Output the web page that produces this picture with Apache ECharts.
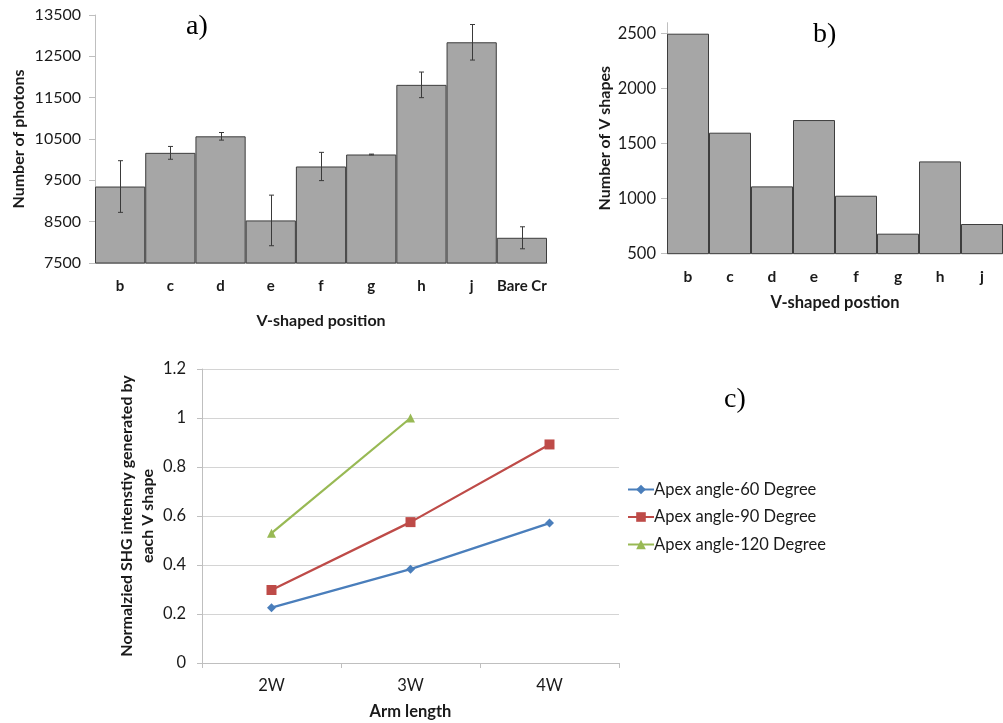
<!DOCTYPE html>
<html>
<head>
<meta charset="utf-8">
<script src="https://cdn.jsdelivr.net/npm/echarts@6/dist/echarts.min.js"></script>
<style>
html,body{margin:0;padding:0;background:#fff;}
#main{width:1003px;height:723px;}
</style>
</head>
<body>
<div id="main"></div>
<script>
// Panel a data
const catsA = ['b','c','d','e','f','g','h','j','Bare Cr'];
const photons = [9350, 10165, 10565, 8530, 9835, 10125, 11810, 12840, 8110];
const photonErr = [625, 155, 92, 612, 342, 10, 310, 430, 266];
const ticksA = [7500, 8500, 9500, 10500, 11500, 12500, 13500];

// Panel b data
const catsB = ['b','c','d','e','f','g','h','j'];
const vCounts = [2500, 1600, 1112, 1715, 1027, 682, 1339, 770];
const ticksB = [500, 1000, 1500, 2000, 2500];

// Panel c data
const catsC = ['2W','3W','4W'];
const apex60 = [0.226, 0.383, 0.571];
const apex90 = [0.298, 0.575, 0.892];
const apex120 = [0.530, 1.0, null];
const seriesNamesC = ['Apex angle-60 Degree','Apex angle-90 Degree','Apex angle-120 Degree'];

const F = 'Lato, "Open Sans", sans-serif';
const axisGray = '#bfbfbf';
const textCol = '#1a1a1a';

const chart = echarts.init(document.getElementById('main'), null, {renderer:'canvas'});

const errData = photons.map((v,i)=>[i, v - photonErr[i], v + photonErr[i]]);

const option = {
  animation: false,
  backgroundColor: '#fff',
  title: [
    {text:'a)', left:181, top:8, textStyle:{fontFamily:'"Liberation Serif", serif', fontWeight:'normal', fontSize:28, color:'#000'}},
    {text:'b)', left:808, top:16, textStyle:{fontFamily:'"Liberation Serif", serif', fontWeight:'normal', fontSize:28, color:'#000'}},
    {text:'c)', left:719, top:381, textStyle:{fontFamily:'"Liberation Serif", serif', fontWeight:'normal', fontSize:28, color:'#000'}}
  ],
  grid: [
    {left:95, top:15, width:452, height:248, containLabel:false},
    {left:667, top:22.7, width:338, height:231, containLabel:false},
    {left:202, top:369, width:417, height:294, containLabel:false}
  ],
  legend: {
    data: seriesNamesC,
    orient: 'vertical',
    left: 622, top: 476,
    itemWidth: 26, itemHeight: 12, itemGap: 10.5,
    textStyle: {fontFamily:F, fontSize:16.5, color:textCol, padding:[0,0,0,-5]}
  },
  xAxis: [
    {gridIndex:0, type:'category', data:catsA,
     axisLine:{show:true, lineStyle:{color:axisGray}}, axisTick:{show:false},
     axisLabel:{interval:0, margin:16, fontFamily:F, fontWeight:'bold', fontSize:15, color:textCol},
     name:'V-shaped position', nameLocation:'middle', nameGap:50,
     nameTextStyle:{fontFamily:F, fontWeight:'bold', fontSize:16, color:textCol}},
    {gridIndex:1, type:'category', data:catsB,
     axisLine:{show:true, lineStyle:{color:axisGray}}, axisTick:{show:false},
     axisLabel:{interval:0, margin:15, fontFamily:F, fontWeight:'bold', fontSize:15.5, color:textCol},
     name:'V-shaped postion', nameLocation:'middle', nameGap:40,
     nameTextStyle:{fontFamily:F, fontWeight:'bold', fontSize:16.5, color:textCol}},
    {gridIndex:2, type:'category', data:catsC, boundaryGap:true,
     axisLine:{show:true, lineStyle:{color:axisGray}},
     axisTick:{show:true, length:5, lineStyle:{color:axisGray}},
     axisLabel:{interval:0, margin:14, fontFamily:F, fontSize:16.5, color:textCol},
     name:'Arm length', nameLocation:'middle', nameGap:40,
     nameTextStyle:{fontFamily:F, fontWeight:'bold', fontSize:16.5, color:textCol}}
  ],
  yAxis: [
    {gridIndex:0, type:'value', min:7500, max:13500, interval:1000,
     axisLine:{show:true, lineStyle:{color:axisGray}},
     axisTick:{show:true, length:6, lineStyle:{color:axisGray}},
     splitLine:{show:false},
     axisLabel:{margin:14, fontFamily:F, fontSize:16, color:textCol,
                customValues: ticksA, formatter: v => String(v)},
     name:'Number of photons', nameLocation:'middle', nameGap:68, nameRotate:90,
     nameTextStyle:{fontFamily:F, fontWeight:'bold', fontSize:16, color:textCol}},
    {gridIndex:1, type:'value', min:500, max:2600, interval:500,
     axisLine:{show:true, lineStyle:{color:axisGray}},
     axisTick:{show:true, length:6, lineStyle:{color:axisGray}, customValues: ticksB},
     splitLine:{show:false},
     axisLabel:{margin:11, fontFamily:F, fontSize:16.5, color:textCol, customValues: ticksB,
                formatter: v => String(v)},
     name:'Number of V shapes', nameLocation:'middle', nameGap:54, nameRotate:90,
     nameTextStyle:{fontFamily:F, fontWeight:'bold', fontSize:16, color:textCol}},
    {gridIndex:2, type:'value', min:0, max:1.2, interval:0.2,
     axisLine:{show:true, lineStyle:{color:axisGray}},
     axisTick:{show:true, length:5, lineStyle:{color:axisGray}},
     splitLine:{show:true, lineStyle:{color:'#d4d4d4'}},
     axisLabel:{margin:16, fontFamily:F, fontSize:16.5, color:textCol,
                formatter: v => String(Math.round(v*10)/10)},
     name:'Normalzied SHG intenstiy generated by\neach V shape', nameLocation:'middle', nameGap:44, nameRotate:90,
     nameTextStyle:{fontFamily:F, fontWeight:'bold', fontSize:16, color:textCol, lineHeight:21}}
  ],
  series: [
    {type:'bar', xAxisIndex:0, yAxisIndex:0, data:photons, barCategoryGap:'0%',
     itemStyle:{color:'#a6a6a6', borderColor:'#3d3d3d', borderWidth:1}},
    {type:'custom', xAxisIndex:0, yAxisIndex:0, data:errData, z:10,
     renderItem: function(params, api){
       const x = api.value(0);
       const lo = api.coord([x, api.value(1)]);
       const hi = api.coord([x, api.value(2)]);
       const cx = Math.round(lo[0]) + 0.5;
       const c = 2.5;
       const st = {stroke:'#3a3a3a', lineWidth:1, fill:null};
       return {type:'group', children:[
         {type:'line', shape:{x1:cx, y1:hi[1], x2:cx, y2:lo[1]}, style:st},
         {type:'line', shape:{x1:cx-c, y1:hi[1], x2:cx+c, y2:hi[1]}, style:st},
         {type:'line', shape:{x1:cx-c, y1:lo[1], x2:cx+c, y2:lo[1]}, style:st}
       ]};
     }},
    {type:'bar', xAxisIndex:1, yAxisIndex:1, data:vCounts, barCategoryGap:'0%',
     itemStyle:{color:'#a6a6a6', borderColor:'#3d3d3d', borderWidth:1}},
    {name:seriesNamesC[0], type:'line', xAxisIndex:2, yAxisIndex:2, data:apex60,
     symbol:'diamond', symbolSize:9, color:'#4a7ebb', lineStyle:{width:2.25}},
    {name:seriesNamesC[1], type:'line', xAxisIndex:2, yAxisIndex:2, data:apex90,
     symbol:'rect', symbolSize:10, color:'#be4b48', lineStyle:{width:2.25}},
    {name:seriesNamesC[2], type:'line', xAxisIndex:2, yAxisIndex:2, data:apex120,
     symbol:'triangle', symbolSize:9, color:'#98b954', lineStyle:{width:2.25}}
  ]
};
chart.setOption(option);
</script>
</body>
</html>
